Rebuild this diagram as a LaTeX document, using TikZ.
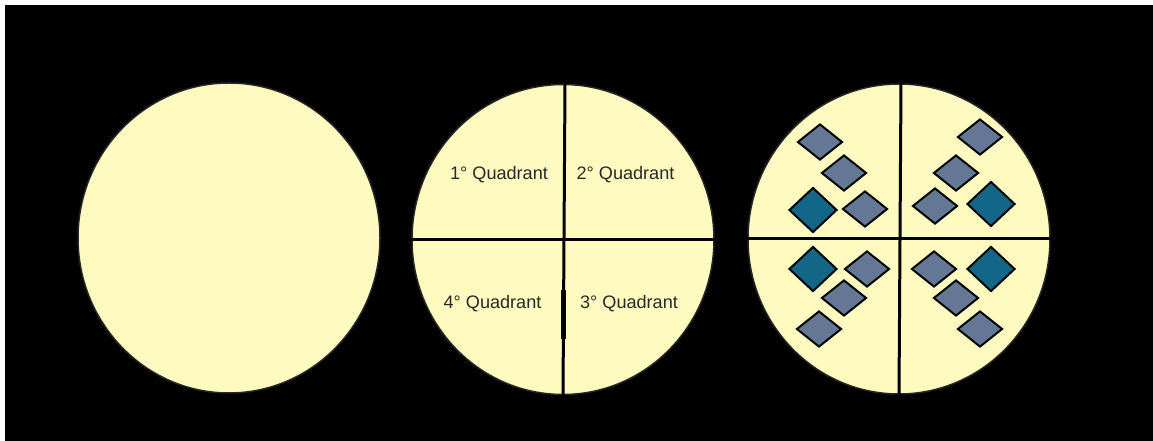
\documentclass[tikz,border=0pt]{standalone}
\usepackage{fontspec}
\setmainfont{Liberation Sans}
\usetikzlibrary{shapes.geometric, calc}
\definecolor{PlateYellow}{RGB}{255,250,192}
\definecolor{CellGray}{RGB}{100,120,150}
\definecolor{CellTeal}{RGB}{18,102,135}
\definecolor{LabelGray}{RGB}{40,40,40}
\tikzset{
  plate/.style={ellipse, draw=black!85, fill=PlateYellow, line width=0.3mm,
    minimum width=60.4mm, minimum height=62mm, inner sep=0pt},
  divider/.style={line width=0.6mm, draw=black},
  cell/.style={diamond, draw=black, fill=CellGray, line width=0.4mm,
    inner sep=0pt, minimum width=9mm, minimum height=7.2mm},
  hit/.style={cell, fill=CellTeal, minimum width=9.6mm, minimum height=9mm},
  quad/.style={font=\fontsize{10.3}{12}\selectfont, text=LabelGray, inner sep=0pt}
}

\begin{document}
\begin{tikzpicture}[x=0.2mm, y=-0.2mm]
  \useasboundingbox (0,0) rectangle (1153,441);
  \fill[white] (0,0) rectangle (1153,441);
  \fill[black] (5,5) rectangle (1153,441);

  % plates
  \node[plate] (plate1) at (229,238) {};
  \node[plate] (plate2) at (563,239.5) {};
  \node[plate] (plate3) at (899,239) {};

  % quadrant lines
  \draw[divider] ($(plate2.north)+(2,0)$) -- (plate2.south);
  \draw[divider] (plate2.west) -- (plate2.east);
  \draw[line width=1mm] ($(plate2.center)+(0,51)$) -- ($(plate2.center)+(0,99)$);
  \draw[divider] ($(plate3.north)+(2,0)$) -- (plate3.south);
  \draw[divider] (plate3.west) -- (plate3.east);

  \node[quad] (lab1) at (499,175) {1° Quadrant};
  \node[quad] (lab2) at (625.5,175) {2° Quadrant};
  \node[quad] (lab4) at (492.5,304) {4° Quadrant};
  \node[quad] (lab3) at (629,304) {3° Quadrant};

  % samples per quadrant
  \node[cell] (q1a) at (820,142) {};
  \node[cell] (q1b) at (844,173) {};
  \node[hit]  (q1c) at (813,210) {};
  \node[cell] (q1d) at (865,209) {};

  \node[cell] (q2a) at (980,137) {};
  \node[cell] (q2b) at (956,173) {};
  \node[cell] (q2c) at (935,206) {};
  \node[hit]  (q2d) at (991,204) {};

  \node[hit]  (q4a) at (813,269) {};
  \node[cell] (q4b) at (867,269) {};
  \node[cell] (q4c) at (844,298) {};
  \node[cell] (q4d) at (819,329) {};

  \node[cell] (q3a) at (934,269) {};
  \node[hit]  (q3b) at (991,269) {};
  \node[cell] (q3c) at (956,298) {};
  \node[cell] (q3d) at (980,329) {};
\end{tikzpicture}
\end{document}
